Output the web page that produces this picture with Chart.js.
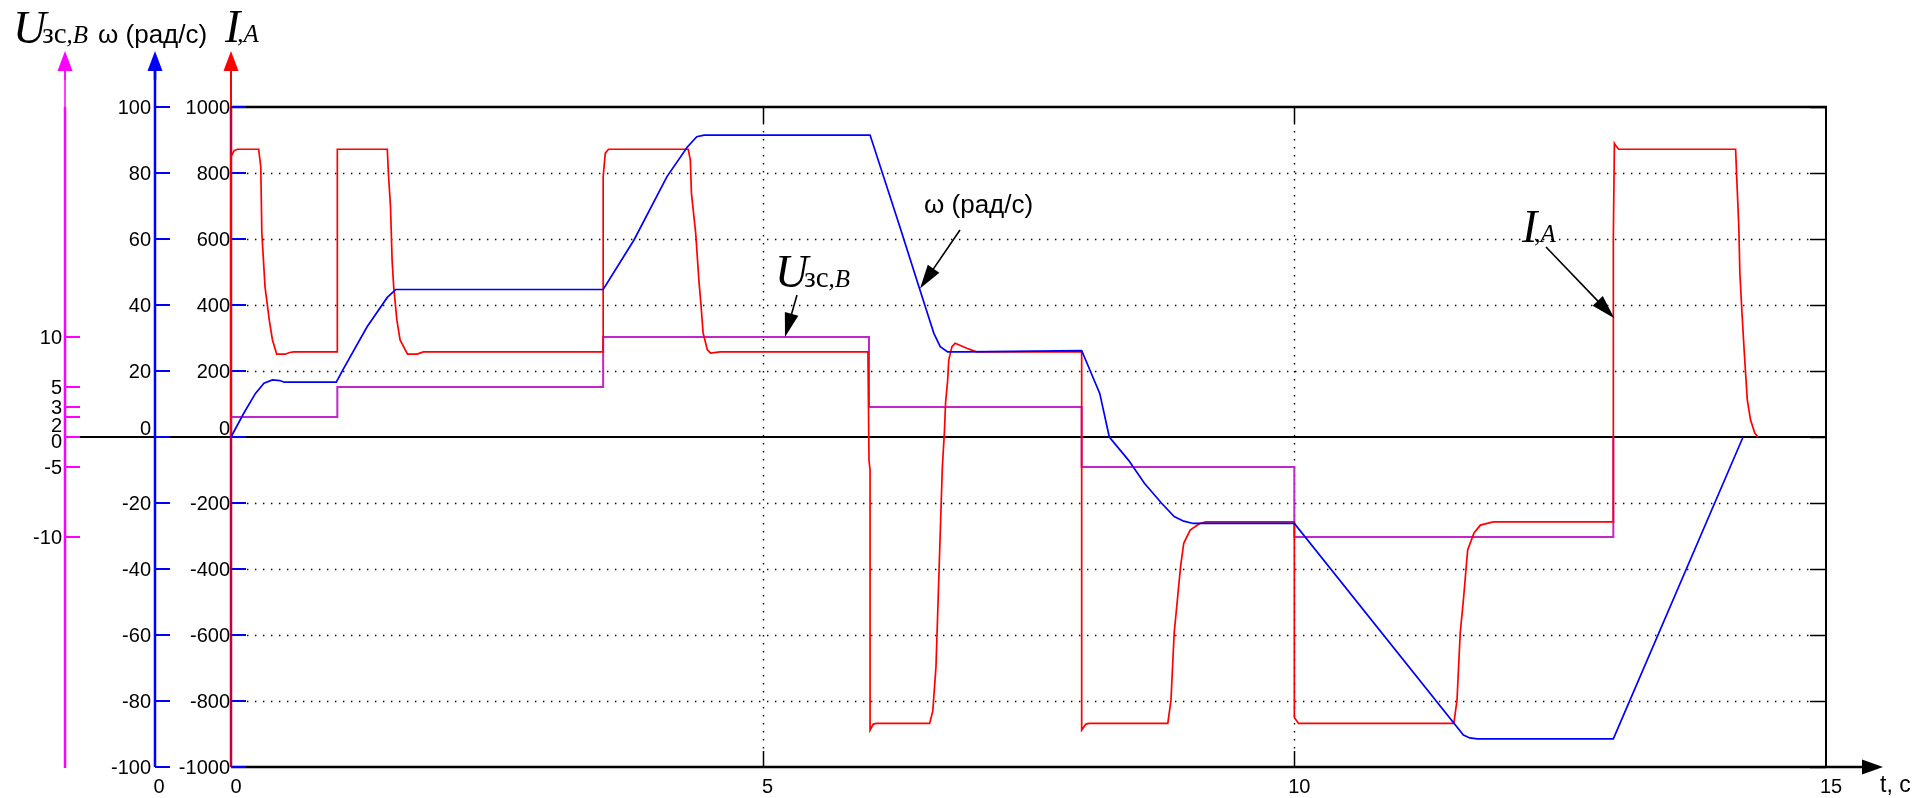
<!DOCTYPE html>
<html>
<head>
<meta charset="utf-8">
<title>I, ω, Uзс</title>
<script src="https://cdn.jsdelivr.net/npm/chart.js@4.4.1/dist/chart.umd.min.js"></script>
<style>
  html, body { margin: 0; padding: 0; background: #fff; }
  #wrap { position: relative; width: 1923px; height: 798px; }
</style>
</head>
<body>
<div id="wrap"><canvas id="grafico"></canvas></div>
<script>
// corriente I, A (roja)
const tCorriente = [0, 0, 0.03, 0.06, 0.26, 0.28, 0.29, 0.32, 0.36, 0.39, 0.43, 0.51, 0.55, 0.59, 1.0, 1.0, 1.47, 1.48, 1.50, 1.515,
  1.53, 1.56, 1.59, 1.66, 1.75, 1.81, 3.5, 3.5, 3.52, 3.55, 4.3, 4.32, 4.33, 4.37, 4.40, 4.42, 4.44, 4.48, 4.51, 4.6,
  5.99, 6.0, 6.01, 6.01, 6.04, 6.07, 6.57, 6.6, 6.63, 6.65, 6.67, 6.69, 6.71, 6.72, 6.74, 6.75, 6.78, 6.81, 6.92, 7.01,
  8.0, 8.0, 8.04, 8.07, 8.81, 8.84, 8.87, 8.9, 8.93, 8.96, 9.02, 9.11, 9.17, 10.0, 10.0, 10.04, 11.5, 11.53, 11.56, 11.59,
  11.63, 11.69, 11.75, 11.87, 13.0, 13.0, 13.01, 13.03, 13.05, 14.15, 14.16, 14.18, 14.19, 14.21, 14.23, 14.26, 14.29, 14.33, 14.36];
const corriente = [0, 850, 868, 872, 872, 819, 618, 455, 354, 294, 251, 251, 256, 258, 258, 872, 872, 800, 698, 536,
  455, 354, 294, 251, 251, 258, 258, 789, 860, 872, 872, 839, 739, 618, 476, 400, 315, 264, 254, 258,
  258, -70, -100, -888, -870, -868, -868, -830, -696, -494, -291, -90, 20, 103, 173, 233, 274, 284, 269, 258,
  258, -888, -870, -868, -868, -797, -594, -494, -393, -322, -282, -262, -257, -257, -850, -868, -868, -797, -594, -494,
  -342, -291, -267, -257, -257, 600, 890, 880, 872, 872, 789, 637, 496, 375, 264, 112, 52, 12, 0];

// velocidad ω, rad/s (azul)
const tVelocidad = [0, 0.12, 0.23, 0.31, 0.39, 0.46, 0.5, 0.99, 1.06, 1.28, 1.47, 1.55, 3.5, 3.79, 4.1, 4.29, 4.38, 4.45,
  6.01, 6.29, 6.48, 6.61, 6.67, 6.74, 6.9, 8.0, 8.17, 8.26, 8.44, 8.59, 8.75, 8.87, 8.96, 9.05, 10.0, 11.59, 11.65, 11.72, 13.0, 14.22];
const velocidad = [0, 7.2, 13.2, 16.3, 17.3, 17.1, 16.6, 16.6, 20.8, 33.4, 42.3, 44.7, 44.7, 59.7, 78.9, 87.8, 91.0, 91.5,
  91.5, 63.7, 44.5, 31.4, 27.4, 25.8, 25.8, 26.2, 13.2, 0, -7, -14, -20, -24.1, -25.5, -26.2, -26.2, -90.3, -91.2, -91.5, -91.5, 0];

// tension Uзс, V (magenta)
const tTension = [0, 0, 1, 1, 3.5, 3.5, 6, 6, 8, 8, 10, 10, 13, 13];
const tension = [0, 2, 2, 5, 5, 10, 10, 3, 3, -3, -3, -10, -10, 0];

// marcas de los ejes
const ticksTiempo = [0, 5, 10, 15];
const ticksCorriente = [1000, 800, 600, 400, 200, 0, -200, -400, -600, -800, -1000];
const ticksVelocidad = [100, 80, 60, 40, 20, 0, -20, -40, -60, -80, -100];
const ticksTension = [10, 5, 3, 2, 0, -3, -10];
const etiquetasTension = ['10', '5', '3', '2', '0', '-5', '-10'];

const puntos = (ts, vs) => ts.map((t, i) => ({ x: t, y: vs[i] }));

const SANS = '"Liberation Sans", Arial, sans-serif';
const SERIF = '"Liberation Serif", "Times New Roman", serif';

function linea(ctx, x1, y1, x2, y2) {
    ctx.beginPath();
    ctx.moveTo(x1, y1);
    ctx.lineTo(x2, y2);
    ctx.stroke();
}

// linea con punta de flecha rellena
function flecha(ctx, x1, y1, x2, y2, largo, ancho, color, grosor) {
    const ang = Math.atan2(y2 - y1, x2 - x1);
    const c = Math.cos(ang), s = Math.sin(ang);
    ctx.strokeStyle = color;
    ctx.fillStyle = color;
    ctx.lineWidth = grosor;
    linea(ctx, x1, y1, x2 - c * largo * 0.8, y2 - s * largo * 0.8);
    ctx.beginPath();
    ctx.moveTo(x2, y2);
    ctx.lineTo(x2 - largo * c + ancho * s, y2 - largo * s - ancho * c);
    ctx.lineTo(x2 - largo * c - ancho * s, y2 - largo * s + ancho * c);
    ctx.closePath();
    ctx.fill();
}

// "Uзс,B"
function textoU(ctx, x, y) {
    ctx.fillStyle = '#000';
    ctx.textAlign = 'left';
    ctx.textBaseline = 'alphabetic';
    ctx.font = 'italic 46px ' + SERIF;
    ctx.fillText('U', x, y);
    let w = ctx.measureText('U').width - 4;
    ctx.font = '29px ' + SERIF;
    ctx.fillText('зс', x + w, y);
    w += ctx.measureText('зс').width;
    ctx.font = 'italic 25px ' + SERIF;
    ctx.fillText(',B', x + w, y);
}

// "I,A"
function textoI(ctx, x, y) {
    ctx.fillStyle = '#000';
    ctx.textAlign = 'left';
    ctx.textBaseline = 'alphabetic';
    ctx.font = 'italic 46px ' + SERIF;
    ctx.fillText('I', x, y);
    const w = ctx.measureText('I').width - 3;
    ctx.font = 'italic 25px ' + SERIF;
    ctx.fillText(',A', x + w, y);
}

const ejes = {
    id: 'ejes',
    beforeDatasetsDraw(chart) {
        const { ctx, chartArea: a, scales } = chart;
        const x = scales.x, yI = scales.yI, yW = scales.yW, yU = scales.yU;
        const ejeU = 65, ejeW = 155, ejeI = a.left;
        const y0 = yI.getPixelForValue(0);
        ctx.save();

        // rejilla punteada
        ctx.strokeStyle = '#000';
        ctx.lineWidth = 1.4;
        ctx.setLineDash([1.4, 6.6]);
        ticksCorriente.forEach(v => {
            if (v === 0 || Math.abs(v) === 1000) return;
            const y = Math.round(yI.getPixelForValue(v)) + 0.5;
            linea(ctx, a.left + 16, y, a.right - 16, y);
        });
        ticksTiempo.forEach(v => {
            if (v <= 0 || v >= 15) return;
            const px = Math.round(x.getPixelForValue(v)) + 0.5;
            linea(ctx, px, a.top + 16, px, a.bottom - 16);
        });
        ctx.setLineDash([]);

        // marcas cortas en el marco
        ctx.lineWidth = 1.5;
        ticksTiempo.forEach(v => {
            if (v <= 0 || v >= 15) return;
            const px = Math.round(x.getPixelForValue(v)) + 0.5;
            linea(ctx, px, a.top, px, a.top + 16);
            linea(ctx, px, a.bottom - 16, px, a.bottom);
        });
        ticksCorriente.forEach(v => {
            const y = Math.round(yI.getPixelForValue(v)) + 0.5;
            linea(ctx, a.right - 16, y, a.right, y);
        });

        // marco y linea de cero
        ctx.lineWidth = 2.5;
        linea(ctx, a.left, a.top, a.right + 1, a.top);
        ctx.lineWidth = 2;
        linea(ctx, a.right, a.top, a.right, a.bottom);
        linea(ctx, ejeU, y0, a.right, y0);
        flecha(ctx, a.left, a.bottom, x.getPixelForValue(15) + 57, a.bottom, 21, 7.5, '#000', 2.5);

        // eje U (magenta)
        ctx.strokeStyle = '#ff00ff';
        ctx.lineWidth = 1.5;
        linea(ctx, ejeU, 70, ejeU, a.top);
        ctx.lineWidth = 2.5;
        linea(ctx, ejeU, a.top, ejeU, a.bottom + 1);
        flecha(ctx, ejeU, 80, ejeU, 51, 20, 7.5, '#ff00ff', 1.5);
        ctx.lineWidth = 2;
        ticksTension.forEach(v => {
            const y = yU.getPixelForValue(v);
            linea(ctx, ejeU, y, ejeU + 15, y);
        });

        // eje ω (azul)
        ctx.strokeStyle = '#0000ff';
        ctx.lineWidth = 2.5;
        linea(ctx, ejeW, 70, ejeW, a.bottom);
        flecha(ctx, ejeW, 80, ejeW, 51, 20, 7.5, '#0000ff', 2.5);
        ctx.lineWidth = 2;
        ticksVelocidad.forEach(v => {
            const y = yW.getPixelForValue(v);
            linea(ctx, ejeW, y, ejeW + 15, y);
        });

        // eje I (rojo)
        ctx.strokeStyle = '#c4003c';
        ctx.lineWidth = 2.5;
        linea(ctx, ejeI, a.top, ejeI, a.bottom);
        flecha(ctx, ejeI, a.top, ejeI, 51, 20, 7.5, '#ff0000', 2);
        ctx.strokeStyle = '#0000ff';
        ctx.lineWidth = 2;
        ticksCorriente.forEach(v => {
            const y = yI.getPixelForValue(v);
            linea(ctx, ejeI, y, ejeI + 15, y);
        });

        // etiquetas de los ejes
        ctx.fillStyle = '#000';
        ctx.font = '20px ' + SANS;
        ctx.textAlign = 'right';
        ctx.textBaseline = 'middle';
        ticksTension.forEach((v, i) => {
            const dy = v === 2 ? 8 : (v === 0 ? 4 : 0);
            ctx.fillText(etiquetasTension[i], ejeU - 3, yU.getPixelForValue(v) + dy + 1);
        });
        ticksVelocidad.forEach(v => {
            ctx.fillText(String(v), ejeW - 4, yW.getPixelForValue(v) + (v === 0 ? -8 : 1));
        });
        ticksCorriente.forEach(v => {
            ctx.fillText(String(v), ejeI - 1, yI.getPixelForValue(v) + (v === 0 ? -8 : 1));
        });
        ctx.textAlign = 'center';
        ctx.fillText('0', ejeW + 4, a.bottom + 20);
        ticksTiempo.forEach(v => {
            ctx.fillText(String(v), x.getPixelForValue(v) + 5, a.bottom + 20);
        });
        ctx.textAlign = 'left';
        ctx.font = '23px ' + SANS;
        ctx.fillText('t, c', x.getPixelForValue(15) + 54, a.bottom + 19);

        // titulos de los ejes
        textoU(ctx, 13, 43);
        ctx.font = '26px ' + SANS;
        ctx.textBaseline = 'alphabetic';
        ctx.fillText('ω (рад/с)', 98, 43);
        textoI(ctx, 225, 42);
        ctx.restore();
    },
    afterDatasetsDraw(chart) {
        const { ctx, scales } = chart;
        const x = scales.x, yI = scales.yI, yW = scales.yW, yU = scales.yU;
        ctx.save();
        // anotaciones con flechas
        ctx.font = '26px ' + SANS;
        ctx.fillStyle = '#000';
        ctx.textAlign = 'left';
        ctx.textBaseline = 'alphabetic';
        ctx.fillText('ω (рад/с)', 924, 213);
        flecha(ctx, 960, 230, x.getPixelForValue(6.48), yW.getPixelForValue(45), 24, 7, '#000', 1.6);

        textoU(ctx, 775, 287);
        flecha(ctx, 797, 295, x.getPixelForValue(5.21), yU.getPixelForValue(10), 24, 7, '#000', 1.6);

        textoI(ctx, 1522, 242);
        flecha(ctx, 1546, 247, x.getPixelForValue(13.0) + 1, yI.getPixelForValue(360), 24, 7, '#000', 1.6);
        ctx.restore();
    }
};

const ctx = document.getElementById('grafico').getContext('2d');
const grafico = new Chart(ctx, {
    type: 'line',
    data: {
        datasets: [{
            label: 'ω (рад/с)',
            data: puntos(tVelocidad, velocidad),
            yAxisID: 'yW',
            borderColor: '#0000ff',
            borderWidth: 1.7
        }, {
            label: 'I, A',
            data: puntos(tCorriente, corriente),
            yAxisID: 'yI',
            borderColor: '#ff0000',
            borderWidth: 1.7
        }, {
            label: 'Uзс, B',
            data: puntos(tTension, tension),
            yAxisID: 'yU',
            borderColor: '#c026c8',
            borderWidth: 2
        }]
    },
    options: {
        responsive: true,
        maintainAspectRatio: false,
        animation: false,
        events: [],
        layout: { padding: { left: 231, right: 97, top: 107, bottom: 31 } },
        elements: {
            point: { radius: 0 },
            line: { tension: 0, fill: false }
        },
        datasets: { line: { clip: false } },
        plugins: { legend: { display: false }, tooltip: { enabled: false } },
        scales: {
            x: { type: 'linear', min: 0, max: 15, display: false },
            yI: { type: 'linear', min: -1000, max: 1000, display: false },
            yW: { type: 'linear', min: -100, max: 100, display: false },
            yU: { type: 'linear', min: -33, max: 33, display: false }
        }
    },
    plugins: [ejes]
});
</script>
</body>
</html>
